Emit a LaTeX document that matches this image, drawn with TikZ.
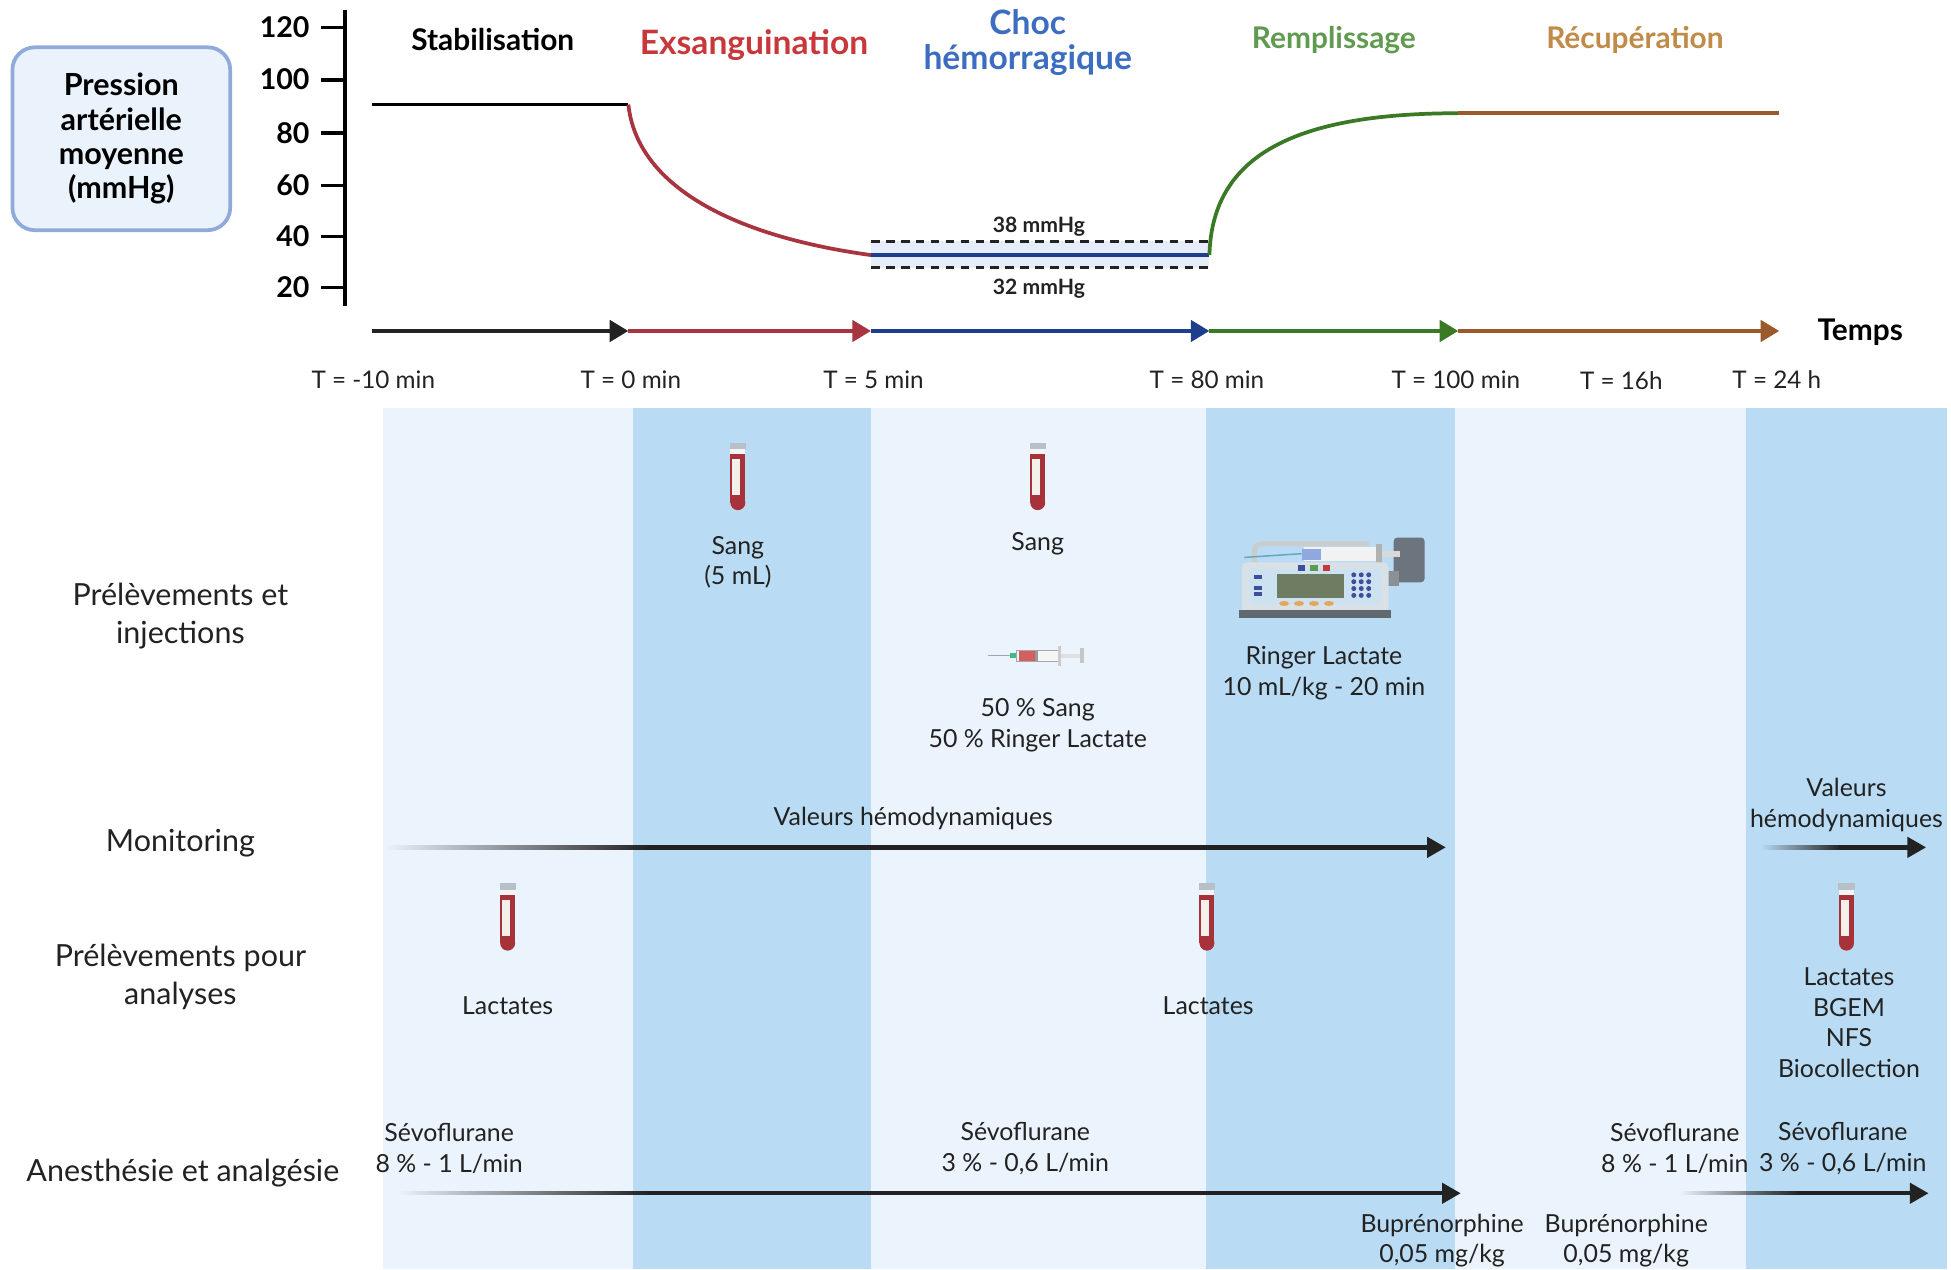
\documentclass[tikz,border=0pt]{standalone}
\usepackage{fontspec}
\setmainfont{Lato}
\usetikzlibrary{arrows.meta,fadings}

\definecolor{colLight}{HTML}{EBF3FC}
\definecolor{colDark}{HTML}{B9DCF4}
\definecolor{boxFill}{HTML}{EAF2FB}
\definecolor{boxLine}{HTML}{90ABD9}
\definecolor{ink}{HTML}{222222}
\definecolor{exsC}{HTML}{A8343F}
\definecolor{exsT}{HTML}{C8383A}
\definecolor{chocC}{HTML}{1E3D8C}
\definecolor{chocT}{HTML}{3D6DC0}
\definecolor{rempC}{HTML}{3B7A25}
\definecolor{rempT}{HTML}{5F9A4F}
\definecolor{recC}{HTML}{9A5A2B}
\definecolor{recT}{HTML}{C08A48}
\definecolor{band}{HTML}{E4EDF9}
\definecolor{blood}{HTML}{A8323A}
\definecolor{tubeWhite}{HTML}{F4F1EA}
\definecolor{capGray}{HTML}{B8C0C7}
\definecolor{bodyGray}{HTML}{D9E1E7}
\definecolor{panelBlue}{HTML}{CDE2F1}
\definecolor{screenGreen}{HTML}{6E7D62}
\definecolor{slateGray}{HTML}{6C757D}
\definecolor{keyBlue}{HTML}{3C4E9C}
\definecolor{ovalC}{HTML}{E1A85A}

\tikzfading[name=fadeleft, left color=transparent!100, right color=transparent!0]

\tikzset{
  bloodtube/.pic={
    \fill[capGray] (-6.5,-27) rectangle (6.5,-22);
    \fill[white!92!gray] (-6,-22) rectangle (6,-18);
    \fill[blood] (-6,-18) rectangle (6,21);
    \fill[blood] (0,21) circle[radius=6];
    \fill[tubeWhite] (-4.5,-14) rectangle (1.8,15);
  },
  syringe/.pic={
    \draw[gray!70, line width=1pt] (-40,0) -- (-21,0);
    \fill[rempT!70!cyan] (-22,-1.8) rectangle (-17,1.8);
    \fill[white!92!gray] (-17,-4.5) rectangle (17,4.5);
    \fill[exsT!80] (-15,-4) rectangle (-2,4);
    \fill[gray!80] (-2,-4.5) rectangle (0.5,4.5);
    \draw[gray!70, line width=0.6pt] (-17,-4.5) rectangle (17,4.5);
    \fill[gray!40] (16,-8) rectangle (19,8);
    \fill[gray!25] (19,-1.5) rectangle (35,1.5);
    \fill[gray!45] (34,-6) rectangle (37,6);
  },
  pump/.pic={
    % carrying handle
    \draw[line width=4pt, gray!40, rounded corners=6pt] (-62,-10) -- (-62,-28) -- (30,-28);
    % syringe clamp on the right
    \fill[slateGray, rounded corners=3pt] (50,-33) rectangle (75,3);
    \fill[slateGray!80] (42,-6) rectangle (54,6);
    % syringe lying on top
    \draw[cyan!50!gray, line width=1.2pt] (-70,-17) -- (-24,-20);
    \fill[white!90!gray] (-22,-25) rectangle (40,-14);
    \fill[cyan!45!blue!45] (-24,-24) rectangle (-8,-15);
    \fill[gray!60] (36,-28) rectangle (41,-11);
    \fill[gray!30] (41,-22) rectangle (55,-17);
    % housing
    \fill[bodyGray, rounded corners=4pt] (-72,-13) rectangle (46,28);
    \fill[panelBlue, rounded corners=2pt] (-66,-8) rectangle (40,21);
    \fill[screenGreen] (-44,-4) rectangle (10,16);
    \fill[slateGray!90!black] (-74,25) rectangle (48,32);
    % buttons and keypad
    \fill[keyBlue] (-27,-11) rectangle (-21,-6);
    \fill[rempT] (-17,-11) rectangle (-11,-6);
    \fill[exsT] (-7,-11) rectangle (-1,-6);
    \foreach \i in {0,1,2}
      \foreach \j in {0,1,2,3}
        \fill[keyBlue] (18+\i*6,-3+\j*5.5) circle[radius=2];
    \foreach \i in {0,1,2,3}
      \fill[ovalC] (-38+\i*12,20) ellipse[x radius=4, y radius=2];
    \fill[keyBlue] (-62,-3) rectangle (-56,0);
    \fill[keyBlue] (-62,6) rectangle (-56,9);
    \fill[keyBlue] (-62,11) rectangle (-56,14);
  }
}

\begin{document}
\begin{tikzpicture}[x=1pt,y=-1pt,
  lbl/.style={font=\fontsize{20}{24.5}\selectfont, align=center, inner sep=0pt, text=ink},
  rowlbl/.style={font=\fontsize{24.5}{30}\selectfont, align=center, inner sep=0pt, text=ink},
  phase/.style={font=\fontsize{24}{28}\selectfont\bfseries, align=center, inner sep=0pt},
  bigphase/.style={font=\fontsize{27}{28}\selectfont\bfseries, align=center, inner sep=0pt},
  ticklbl/.style={font=\fontsize{23}{26}\selectfont\bfseries, anchor=east, inner sep=0pt, text=black},
  timelbl/.style={font=\fontsize{19.5}{22}\selectfont, inner sep=0pt, text=ink},
  mmlbl/.style={font=\fontsize{17}{20}\selectfont\bfseries, inner sep=0pt, text=ink},
  seg/.style={line width=3.5pt, -{Triangle[length=15pt,width=17pt]}},
  curve/.style={line width=3pt},
  shaft/.style={line width=3.5pt, draw=ink, -{Triangle[length=15pt,width=16pt]}},
  fadepart/.style={fill=ink, path fading=fadeleft},
]
\useasboundingbox (0,0) rectangle (1568,1020);

% ---------- phase columns ----------
\fill[colLight] (308,328) rectangle (509,1020);
\fill[colDark]  (509,328) rectangle (700,1020);
\fill[colLight] (700,328) rectangle (969,1020);
\fill[colDark]  (969,328) rectangle (1169,1020);
\fill[colLight] (1169,328) rectangle (1403,1020);
\fill[colDark]  (1403,328) rectangle (1565,1020);

% ---------- y axis ----------
\node[draw=boxLine, line width=3pt, fill=boxFill, rounded corners=18pt,
      minimum width=175pt, minimum height=147pt, align=center,
      font=\fontsize{24.5}{27.5}\selectfont\bfseries] (pam) at (97.5,111.5)
      {Pression\\artérielle\\moyenne\\(mmHg)};
\coordinate (ytop) at (277,8);
\coordinate (ybot) at (277,246);
\draw[line width=3pt, black] (ytop) -- (ybot);
\foreach \v/\yy in {120/22,100/64,80/107,60/149,40/190,20/231}{
  \draw[line width=3pt, black] (258,\yy) -- (277,\yy);
  \node[ticklbl] (tick\v) at (249,\yy) {\v};
}

% ---------- phase titles ----------
\node[phase, text=black] (stab) at (396,32) {Stabilisation};
\node[bigphase, text=exsT] (exs) at (606,36) {Exsanguination};
\node[bigphase, text=chocT] (choc) at (826,34) {Choc\\hémorragique};
\node[phase, text=rempT] (remp) at (1072,32) {Remplissage};
\node[phase, text=recT] (recup) at (1314,32) {Récupération};

% ---------- pressure curve ----------
\coordinate (p0) at (299,84);
\coordinate (p1) at (505,84);
\coordinate (p2) at (700,205);
\coordinate (p3) at (972,205);
\coordinate (p4) at (1172,91);
\coordinate (p5) at (1430,91);
\fill[band] (700,194) rectangle (972,215);
\draw[line width=3pt, ink, dash pattern=on 7pt off 5pt] (700,194) -- (972,194);
\draw[line width=3pt, ink, dash pattern=on 7pt off 5pt] (700,215) -- (972,215);
\draw[curve, black] (p0) -- (p1);
\draw[curve, exsC] (p1) .. controls (512,150) and (590,190) .. (p2);
\draw[curve, chocC] (p2) -- (p3);
\draw[curve, rempC] (p3) .. controls (974,128) and (1035,91) .. (p4);
\draw[curve, recC] (p4) -- (p5);
\node[mmlbl] (hi) at (835,182) {38 mmHg};
\node[mmlbl] (lo) at (835,232) {32 mmHg};

% ---------- time axis ----------
\coordinate (t0) at (299,266);
\coordinate (t1) at (505,266);
\coordinate (t2) at (700,266);
\coordinate (t3) at (972,266);
\coordinate (t4) at (1172,266);
\coordinate (t5) at (1430,266);
\draw[seg, ink] (t0) -- (t1);
\draw[seg, exsC] (t1) -- (t2);
\draw[seg, chocC] (t2) -- (t3);
\draw[seg, rempC] (t3) -- (t4);
\draw[seg, recC] (t4) -- (t5);
\node[font=\fontsize{24}{28}\selectfont\bfseries, inner sep=0pt] (temps) at (1495,267) {Temps};

\node[timelbl] (tm10) at (300,305) {T = -10 min};
\node[timelbl] (tz) at (507,305) {T = 0 min};
\node[timelbl] (t5m) at (702,305) {T = 5 min};
\node[timelbl] (t80) at (970,305) {T = 80 min};
\node[timelbl] (t100) at (1170,305) {T = 100 min};
\node[timelbl] (t16) at (1303,306) {T = 16h};
\node[timelbl] (t24) at (1428,305) {T = 24 h};

% ---------- row headings ----------
\node[rowlbl] (rowA) at (145,495) {Prélèvements et\\injections};
\node[rowlbl] (rowB) at (145,678) {Monitoring};
\node[rowlbl] (rowC) at (145,785) {Prélèvements pour\\analyses};
\node[rowlbl] (rowD) at (147,943) {Anesthésie et analgésie};

% ---------- samples and injections ----------
\pic (tubeA) at (593,383) {bloodtube};
\node[lbl] (sangA) at (593,452) {Sang\\(5 mL)};
\pic (tubeB) at (834,383) {bloodtube};
\node[lbl] (sangB) at (834,437) {Sang};
\pic (syr) at (834,527) {syringe};
\node[lbl] (mix) at (834,583) {50 \% Sang\\50 \% Ringer Lactate};
\pic (pmp) at (1070,465) {pump};
\node[lbl] (ringer) at (1064,541) {Ringer Lactate\\10 mL/kg - 20 min};

% ---------- monitoring ----------
\coordinate (monA) at (310,681);
\coordinate (monAf) at (520,681);
\coordinate (monAe) at (1162,681);
\fill[fadepart] (monA) ++(0,-1.75) rectangle (521,682.75);
\draw[shaft] (monAf) -- (monAe);
\node[lbl] (valA) at (734,658) {Valeurs hémodynamiques};
\coordinate (monB) at (1415,681);
\coordinate (monBf) at (1478,681);
\coordinate (monBe) at (1548,681);
\fill[fadepart] (monB) ++(0,-1.75) rectangle (1479,682.75);
\draw[shaft] (monBf) -- (monBe);
\node[lbl] (valB) at (1484,647) {Valeurs\\hémodynamiques};

% ---------- samples for analyses ----------
\pic (tubeC) at (408,737) {bloodtube};
\node[lbl] (lacA) at (408,808) {Lactates};
\pic (tubeD) at (970,737) {bloodtube};
\node[lbl] (lacB) at (971,808) {Lactates};
\pic (tubeE) at (1484,737) {bloodtube};
\node[lbl] (lacC) at (1486,822) {Lactates\\BGEM\\NFS\\Biocollection};

% ---------- anaesthesia ----------
\coordinate (anA) at (320,959);
\coordinate (anAf) at (520,959);
\coordinate (anAe) at (1174,959);
\fill[fadepart] (anA) ++(0,-1.75) rectangle (521,960.75);
\draw[shaft] (anAf) -- (anAe);
\coordinate (anB) at (1350,959);
\coordinate (anBf) at (1445,959);
\coordinate (anBe) at (1550,959);
\fill[fadepart] (anB) ++(0,-1.75) rectangle (1446,960.75);
\draw[shaft] (anBf) -- (anBe);
\node[lbl] (sevoA) at (361,923) {Sévoflurane\\8 \% - 1 L/min};
\node[lbl] (sevoB) at (824,923) {Sévoflurane\\3 \% - 0,6 L/min};
\node[lbl] (bupA) at (1159,997) {Buprénorphine\\0,05 mg/kg};
\node[lbl] (bupB) at (1307,997) {Buprénorphine\\0,05 mg/kg};
\node[lbl] (sevoC) at (1346,923) {Sévoflurane\\8 \% - 1 L/min};
\node[lbl] (sevoD) at (1481,923) {Sévoflurane\\3 \% - 0,6 L/min};
\end{tikzpicture}
\end{document}
